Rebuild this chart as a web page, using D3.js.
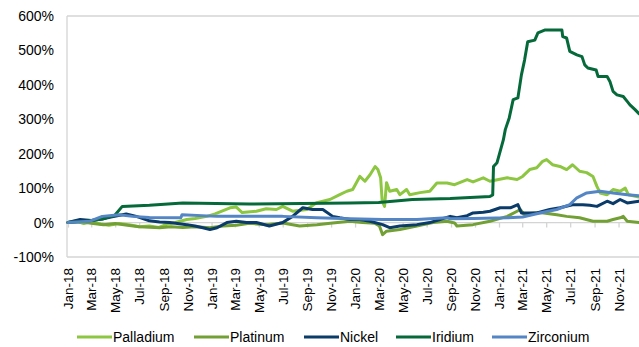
<!DOCTYPE html>
<html>
<head>
<meta charset="utf-8">
<script src="https://cdn.jsdelivr.net/npm/d3@7"></script>
<style>
  html, body { margin: 0; padding: 0; background: #fff; }
  svg { display: block; font-family: "Liberation Sans", Arial, sans-serif; }
</style>
</head>
<body>
<svg id="chart" width="639" height="347"></svg>
<script>
// ---------- DATA (values in %) ----------
const seriesNames = ["Palladium", "Platinum", "Nickel", "Iridium", "Zirconium"];
const yTicks = [-100, 0, 100, 200, 300, 400, 500, 600];
const xTickLabels = ["Jan-18","Mar-18","May-18","Jul-18","Sep-18","Nov-18",
  "Jan-19","Mar-19","May-19","Jul-19","Sep-19","Nov-19",
  "Jan-20","Mar-20","May-20","Jul-20","Sep-20","Nov-20",
  "Jan-21","Mar-21","May-21","Jul-21","Sep-21","Nov-21"];

const palladium = [
  ["2018-01-01",0],["2018-01-20",5],["2018-02-10",-3],["2018-03-01",2],["2018-03-25",-4],
  ["2018-04-15",-8],["2018-05-10",-3],["2018-06-05",-6],["2018-07-01",-12],["2018-07-27",-10],
  ["2018-08-20",-14],["2018-09-09",-5],["2018-10-01",0],["2018-10-30",9],["2018-11-20",12],
  ["2018-12-20",18],["2019-01-10",25],["2019-02-17",43],["2019-03-05",45],["2019-03-20",29],
  ["2019-04-25",33],["2019-05-20",40],["2019-06-15",38],["2019-07-01",47],["2019-07-26",33],
  ["2019-08-31",38],["2019-09-26",58],["2019-10-29",67],["2019-11-23",81],["2019-12-11",91],
  ["2019-12-26",96],["2020-01-13",134],["2020-01-26",120],["2020-02-08",139],["2020-02-21",163],
  ["2020-02-28",154],["2020-03-06",130],["2020-03-10",62],["2020-03-16",47],["2020-03-21",116],
  ["2020-03-29",91],["2020-04-16",96],["2020-04-24",81],["2020-05-11",96],["2020-05-19",81],
  ["2020-06-14",87],["2020-07-09",91],["2020-07-27",115],["2020-08-22",115],["2020-09-10",110],
  ["2020-10-12",125],["2020-10-27",118],["2020-11-22",130],["2020-12-09",120],["2021-01-22",130],
  ["2021-02-16",125],["2021-03-02",134],["2021-03-20",154],["2021-04-07",159],["2021-04-22",178],
  ["2021-05-02",183],["2021-05-17",168],["2021-06-05",163],["2021-06-22",154],["2021-07-07",168],
  ["2021-07-25",149],["2021-08-12",145],["2021-08-28",134],["2021-09-07",105],["2021-09-15",86],
  ["2021-10-03",81],["2021-10-18",96],["2021-11-05",91],["2021-11-18",100],["2021-11-26",81],
  ["2021-12-23",74]
];
const platinum = [
  ["2018-01-01",0],["2018-02-01",3],["2018-03-01",-2],["2018-04-01",-6],["2018-05-01",-3],
  ["2018-06-01",-8],["2018-07-01",-12],["2018-08-22",-15],["2018-09-20",-12],["2018-10-20",-14],
  ["2018-11-20",-12],["2018-12-28",-15],["2019-01-30",-10],["2019-03-05",-8],["2019-04-07",-2],
  ["2019-05-20",-6],["2019-07-01",-1],["2019-08-13",-10],["2019-09-26",-6],["2019-11-05",-1],
  ["2019-12-19",4],["2020-01-20",0],["2020-02-20",-2],["2020-03-03",-10],["2020-03-11",-35],
  ["2020-03-21",-25],["2020-04-24",-20],["2020-06-06",-10],["2020-07-17",0],["2020-08-22",4],
  ["2020-09-10",-1],["2020-09-16",-10],["2020-10-27",-6],["2020-12-09",4],["2021-01-22",18],
  ["2021-02-16",33],["2021-02-24",38],["2021-03-05",25],["2021-04-15",29],["2021-05-28",23],
  ["2021-06-22",18],["2021-07-25",14],["2021-08-28",4],["2021-10-03",4],["2021-10-18",9],
  ["2021-11-05",14],["2021-11-13",18],["2021-11-23",4],["2021-12-23",0]
];
const nickel = [
  ["2018-01-01",0],["2018-02-01",9],["2018-03-01",6],["2018-03-29",10],["2018-04-20",16],
  ["2018-05-29",25],["2018-06-24",18],["2018-07-27",5],["2018-08-22",2],["2018-09-17",0],
  ["2018-10-30",-6],["2018-11-20",-10],["2018-12-10",-15],["2018-12-28",-20],["2019-01-15",-15],
  ["2019-02-09",0],["2019-03-05",4],["2019-03-31",0],["2019-04-25",0],["2019-05-28",-10],
  ["2019-07-01",0],["2019-07-26",18],["2019-08-21",43],["2019-09-15",38],["2019-10-11",38],
  ["2019-11-05",18],["2019-11-23",14],["2019-12-19",9],["2020-01-13",9],["2020-02-08",4],
  ["2020-03-11",-6],["2020-03-29",-15],["2020-04-24",-10],["2020-06-06",-6],["2020-07-09",0],
  ["2020-08-04",9],["2020-08-30",18],["2020-09-16",14],["2020-10-12",20],["2020-10-27",28],
  ["2020-11-22",30],["2020-12-09",33],["2021-01-04",43],["2021-01-30",43],["2021-02-18",52],
  ["2021-02-27",28],["2021-04-07",28],["2021-05-10",38],["2021-06-05",43],["2021-07-07",52],
  ["2021-08-02",52],["2021-08-20",50],["2021-09-07",47],["2021-10-03",62],["2021-10-18",55],
  ["2021-11-05",67],["2021-11-23",57],["2021-12-23",62]
];
const iridium = [
  ["2018-01-01",0],["2018-02-15",4],["2018-03-29",10],["2018-04-16",17],["2018-04-29",20],
  ["2018-05-19",47],["2018-07-27",50],["2018-10-20",57],["2019-04-07",54],["2019-12-19",57],
  ["2020-03-01",58],["2020-05-26",67],["2020-08-30",70],["2020-12-09",76],["2020-12-16",80],
  ["2020-12-18",163],["2020-12-27",174],["2021-01-12",240],["2021-01-17",270],["2021-01-27",304],
  ["2021-02-06",357],["2021-02-18",362],["2021-02-27",429],["2021-03-07",472],["2021-03-15",525],
  ["2021-04-02",530],["2021-04-10",551],["2021-04-27",559],["2021-06-10",559],["2021-06-12",540],
  ["2021-06-22",536],["2021-06-30",497],["2021-07-18",487],["2021-07-31",482],["2021-08-07",458],
  ["2021-08-15",449],["2021-09-05",443],["2021-09-10",424],["2021-10-03",424],["2021-10-10",410],
  ["2021-10-18",381],["2021-10-28",371],["2021-11-13",366],["2021-11-23",352],["2021-11-30",342],
  ["2021-12-13",328],["2021-12-23",316]
];
const zirconium = [
  ["2018-01-01",0],["2018-02-26",4],["2018-03-29",18],["2018-05-11",23],["2018-06-14",18],
  ["2018-07-27",15],["2018-10-15",14],["2018-10-18",23],["2019-01-15",18],["2019-07-01",18],
  ["2019-09-26",14],["2019-12-19",11],["2020-03-11",9],["2020-06-06",9],["2020-08-22",14],
  ["2020-08-30",11],["2020-10-27",12],["2021-01-22",14],["2021-03-02",16],["2021-04-15",28],
  ["2021-05-28",38],["2021-06-30",52],["2021-07-18",72],["2021-08-12",86],["2021-09-15",91],
  ["2021-10-18",86],["2021-11-23",81],["2021-12-23",78]
];
const seriesData = [palladium, platinum, nickel, iridium, zirconium];
const seriesColors = ["#8DC641", "#72A034", "#0B3B69", "#05693A", "#5485C4"];

// ---------- CHART ----------
const svg = d3.select("#chart");
const W = 639, H = 347;
const plot = { left: 67, right: 639, top: 16, bottom: 257 };
const parse = d3.timeParse("%Y-%m-%d");
const fmt = d3.timeFormat("%b-%y");

const x = d3.scaleTime()
  .domain([parse("2018-01-01"), parse("2021-12-23")])
  .range([plot.left + 1, plot.right]);
const y = d3.scaleLinear().domain([-100, 600]).range([plot.bottom, plot.top]);

svg.append("rect").attr("width", W).attr("height", H).attr("fill", "#fff");

// plot border (left, top, bottom)
const border = "#D4D4D4";
svg.append("line").attr("x1", plot.left).attr("x2", plot.left)
  .attr("y1", plot.top).attr("y2", plot.bottom).attr("stroke", border).attr("stroke-width", 1.3);
svg.append("line").attr("x1", plot.left).attr("x2", plot.right)
  .attr("y1", plot.top).attr("y2", plot.top).attr("stroke", border).attr("stroke-width", 1.3);
svg.append("line").attr("x1", plot.left).attr("x2", plot.right)
  .attr("y1", plot.bottom).attr("y2", plot.bottom).attr("stroke", border).attr("stroke-width", 1.3);

// y axis labels
const yAxis = d3.axisLeft(y).tickValues(yTicks).tickSize(0).tickPadding(13)
  .tickFormat(d => d + "%");
const gy = svg.append("g").attr("transform", `translate(${plot.left},0)`).call(yAxis);
gy.select(".domain").remove();
gy.selectAll("text").attr("font-size", 14).attr("fill", "#000")
  .attr("font-family", "Liberation Sans, Arial, sans-serif");

// x tick dates from labels
const tickDates = xTickLabels.map(s => d3.timeParse("%b-%y")(s));

// category axis at 0%
const xAxis0 = d3.axisBottom(x).tickValues(tickDates).tickSize(5).tickFormat("");
const g0 = svg.append("g").attr("transform", `translate(0,${y(0)})`).call(xAxis0);
g0.select(".domain").attr("stroke", border).attr("stroke-width", 1.3)
  .attr("d", `M${plot.left},0H${plot.right}`);
g0.selectAll(".tick line").attr("stroke", border).attr("stroke-width", 1.3);

// x labels at bottom
const xAxisL = d3.axisBottom(x).tickValues(tickDates).tickSize(0).tickFormat((d, i) => xTickLabels[i]);
const gl = svg.append("g").attr("transform", `translate(0,${plot.bottom})`).call(xAxisL);
gl.select(".domain").remove();
gl.selectAll("text")
  .attr("font-size", 13.5).attr("fill", "#000")
  .attr("font-family", "Liberation Sans, Arial, sans-serif")
  .attr("transform", "rotate(-90)")
  .attr("text-anchor", "end")
  .attr("x", -11).attr("y", 0).attr("dy", "0.35em");

// lines
const line = d3.line().x(d => x(parse(d[0]))).y(d => y(d[1]));
seriesData.forEach((data, i) => {
  svg.append("path").datum(data)
    .attr("d", line)
    .attr("fill", "none")
    .attr("stroke", seriesColors[i])
    .attr("stroke-width", 3)
    .attr("stroke-linejoin", "round")
    .attr("stroke-linecap", "round");
});

// legend
const legendX = [77, 194, 304, 396, 492];
const legendY = 337;
const lg = svg.append("g");
seriesNames.forEach((name, i) => {
  lg.append("line").attr("x1", legendX[i]).attr("x2", legendX[i] + 35)
    .attr("y1", legendY).attr("y2", legendY)
    .attr("stroke", seriesColors[i]).attr("stroke-width", 3);
  lg.append("text").attr("x", legendX[i] + 36).attr("y", legendY).attr("dy", "0.35em")
    .attr("font-size", 14).attr("fill", "#000").text(name);
});
</script>
</body>
</html>
